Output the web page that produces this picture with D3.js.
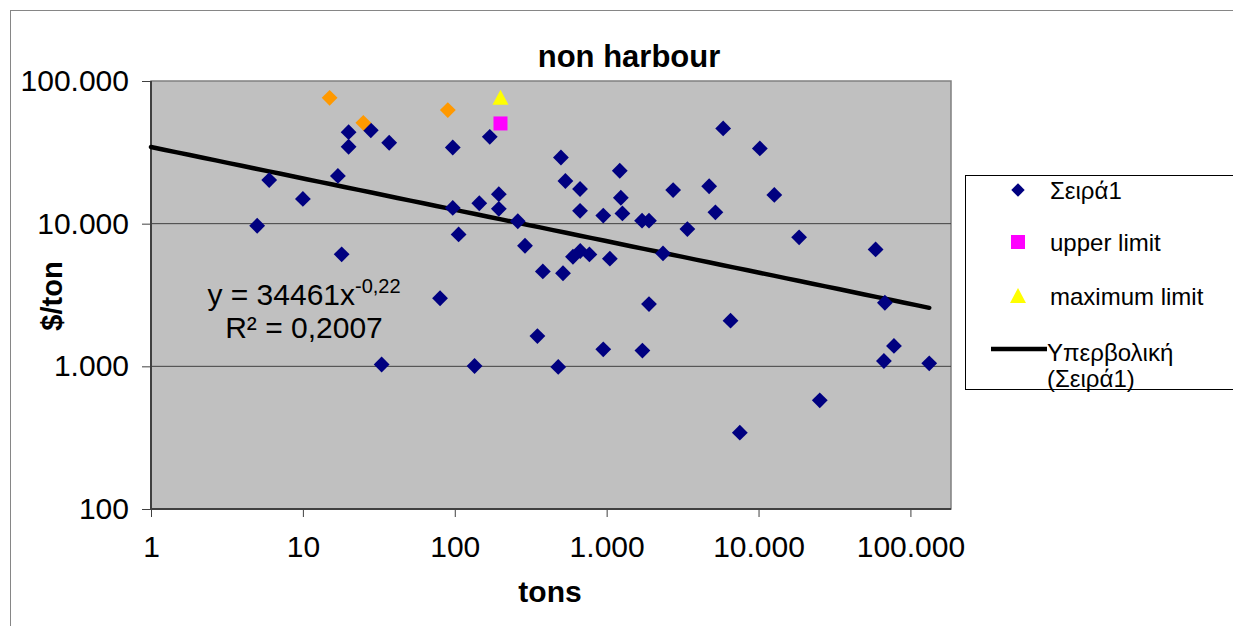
<!DOCTYPE html>
<html>
<head>
<meta charset="utf-8">
<script src="https://cdn.jsdelivr.net/npm/d3@7"></script>
<style>
	body { margin: 0; background: #fff; }
	text { font-family: "Liberation Sans", Arial, sans-serif; }
</style>
</head>
<body>
<div id="chart"></div>
<script>
// tons / $ per ton
const seriesX = [5, 6, 10, 18, 17, 20, 20, 28, 37, 80, 33, 97, 97, 106, 135, 145, 170, 195, 195, 260, 290, 350, 380, 480, 500, 516, 535, 600, 670, 770, 668, 668, 950, 950, 1050, 1220, 1240, 1270, 1710, 1900, 1720, 1900, 2350, 2740, 3400, 4730, 5200, 5850, 6540, 7530, 10200, 12700, 18500, 25300, 59000, 67900, 77900, 66900, 133000];
const seriesY = [9670, 20200, 14900, 6100, 21600, 43800, 34600, 45100, 36900, 3000, 1030, 34200, 12900, 8400, 1005, 13900, 40600, 16100, 12700, 10400, 7000, 1630, 4630, 990, 29100, 4490, 19900, 5860, 6430, 6090, 17500, 12300, 11400, 1315, 5680, 23500, 15200, 11800, 10500, 10500, 1290, 2730, 6190, 17200, 9160, 18300, 12000, 46500, 2090, 343, 33700, 15900, 8020, 578, 6600, 2790, 1390, 1090, 1050];
const orangeX = [15, 25, 90];
const orangeY = [76200, 50900, 62500];
const upperX = [200];
const upperY = [50400];
const maxX = [200];
const maxY = [76400];
const xTicks = [1, 10, 100, 1000, 10000, 100000];
const yTicks = [100, 1000, 10000, 100000];
const trendA = 34461;
const trendB = -0.22;

const W = 1233, H = 626;
const plot = { left: 151, top: 81, right: 951, bottom: 509 };

const svg = d3.select("#chart").append("svg").attr("width", W).attr("height", H);

// outer chart border
svg.append("rect").attr("x", 10.5).attr("y", 10.5).attr("width", 1240).attr("height", 640)
	.style("fill", "none").style("stroke", "#868686").style("stroke-width", 1);

const x = d3.scaleLog().domain([1, 185000]).range([plot.left, plot.right]);
const y = d3.scaleLog().domain([100, 100000]).range([plot.bottom, plot.top]);

const fmt = d3.formatLocale({ decimal: ",", thousands: ".", grouping: [3], currency: ["", ""] }).format(",d");

// plot area
svg.append("rect").attr("x", plot.left).attr("y", plot.top)
	.attr("width", plot.right - plot.left).attr("height", plot.bottom - plot.top)
	.style("fill", "#c0c0c0").style("stroke", "#808080").style("stroke-width", 1.5);

// gridlines
svg.append("g").selectAll("line").data(yTicks.slice(1, -1)).join("line")
	.attr("x1", plot.left).attr("x2", plot.right)
	.attr("y1", (d) => y(d)).attr("y2", (d) => y(d))
	.style("stroke", "#404040").style("stroke-width", 1);

// axes
const xAxis = svg.append("g").attr("transform", `translate(0, ${plot.bottom})`)
	.call(d3.axisBottom(x).tickValues(xTicks).tickFormat(fmt).tickSize(8).tickPadding(19));
xAxis.select(".domain").attr("d", `M${plot.left},0H${plot.right}`).style("stroke", "#404040").style("stroke-width", 2);
xAxis.selectAll("line").style("stroke", "#404040");
xAxis.selectAll("text").style("font-size", "30px").style("fill", "#000");

const yAxis = svg.append("g").attr("transform", `translate(${plot.left}, 0)`)
	.call(d3.axisLeft(y).tickValues(yTicks).tickFormat(fmt).tickSize(9).tickPadding(13));
yAxis.select(".domain").attr("d", `M0,${plot.top}V${plot.bottom}`).style("stroke", "#404040").style("stroke-width", 2);
yAxis.selectAll("line").style("stroke", "#404040");
yAxis.selectAll("text").style("font-size", "30px").style("fill", "#000");

// title and axis titles
svg.append("text").attr("x", 629).attr("y", 67).attr("text-anchor", "middle")
	.style("font-size", "31px").style("font-weight", "bold").text("non harbour");
svg.append("text").attr("x", 550).attr("y", 602).attr("text-anchor", "middle")
	.style("font-size", "30px").style("font-weight", "bold").text("tons");
svg.append("text").attr("transform", "translate(62, 296) rotate(-90)").attr("text-anchor", "middle")
	.style("font-size", "29px").style("font-weight", "bold").text("$/ton");

// trend line
const trendXs = d3.range(0, 61).map((i) => Math.pow(10, (i / 60) * Math.log10(d3.max(seriesX))));
const line = d3.line().x((d) => x(d)).y((d) => y(trendA * Math.pow(d, trendB)));
svg.append("path").datum(trendXs).attr("d", line)
	.style("fill", "none").style("stroke", "#000").style("stroke-width", 4.5).style("stroke-linecap", "round");

// markers
const diamond = d3.symbol().type(d3.symbolSquare).size(125)();
const seriesData = seriesX.map((v, i) => [v, seriesY[i]]);
svg.append("g").selectAll("path").data(seriesData).join("path")
	.attr("d", diamond)
	.attr("transform", (d) => `translate(${x(d[0])}, ${y(d[1])}) rotate(45)`)
	.style("fill", "#000080");

const orangeData = orangeX.map((v, i) => [v, orangeY[i]]);
svg.append("g").selectAll("path").data(orangeData).join("path")
	.attr("d", diamond)
	.attr("transform", (d) => `translate(${x(d[0])}, ${y(d[1])}) rotate(45)`)
	.style("fill", "#ff9900");

svg.append("g").selectAll("rect").data(upperX.map((v, i) => [v, upperY[i]])).join("rect")
	.attr("x", (d) => x(d[0]) - 7).attr("y", (d) => y(d[1]) - 7)
	.attr("width", 14).attr("height", 14).style("fill", "#ff00ff");

const tri = "M0,-8L8,7L-8,7Z";
svg.append("g").selectAll("path").data(maxX.map((v, i) => [v, maxY[i]])).join("path")
	.attr("d", tri)
	.attr("transform", (d) => `translate(${x(d[0])}, ${y(d[1])})`)
	.style("fill", "#ffff00");

// equation
const eq = svg.append("text").attr("x", 304).attr("y", 305).attr("text-anchor", "middle").style("font-size", "30px");
eq.append("tspan").text("y = 34461x");
eq.append("tspan").attr("dy", -12).style("font-size", "20px").text("-0,22");
svg.append("text").attr("x", 304).attr("y", 338).attr("text-anchor", "middle").style("font-size", "30px").text("R² = 0,2007");

// legend
const lg = svg.append("g");
lg.append("rect").attr("x", 965.5).attr("y", 175.5).attr("width", 280).attr("height", 214)
	.style("fill", "#fff").style("stroke", "#000").style("stroke-width", 1);
lg.append("path").attr("d", d3.symbol().type(d3.symbolSquare).size(90)())
	.attr("transform", "translate(1018, 190) rotate(45)").style("fill", "#000080");
lg.append("rect").attr("x", 1011).attr("y", 235).attr("width", 14).attr("height", 14).style("fill", "#ff00ff");
lg.append("path").attr("d", tri).attr("transform", "translate(1018, 296)").style("fill", "#ffff00");
lg.append("line").attr("x1", 991).attr("x2", 1047).attr("y1", 349).attr("y2", 349)
	.style("stroke", "#000").style("stroke-width", 4.5);
const legendItems = [["Σειρά1", 199], ["upper limit", 251], ["maximum limit", 305], ["Υπερβολική", 361], ["(Σειρά1)", 387]];
lg.selectAll("text.item").data(legendItems).join("text").attr("class", "item")
	.attr("x", (d, i) => (i === 3 || i === 4 ? 1047 : 1050)).attr("y", (d) => d[1])
	.style("font-size", "24px").text((d) => d[0]);
</script>
</body>
</html>
